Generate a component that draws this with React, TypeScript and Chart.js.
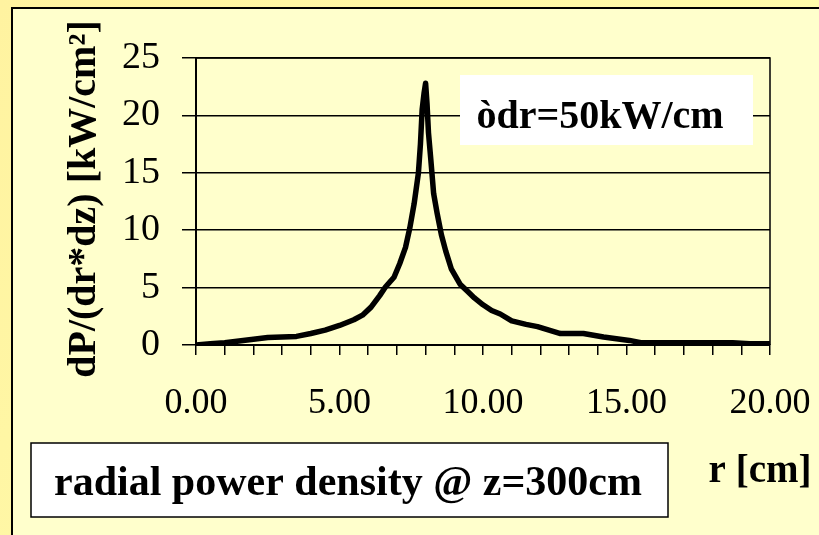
import React, { useEffect, useRef } from "react";
import { Chart, registerables } from "chart.js";

Chart.register(...registerables);

const rValues = [0, 0.5, 1, 1.5, 2, 2.5, 3, 3.5, 4, 4.5, 5, 5.5, 5.8, 6.1, 6.4, 6.6, 6.9, 7.1, 7.3, 7.45, 7.6, 7.75, 7.82, 7.88, 7.95, 8.0, 8.05, 8.1, 8.18, 8.28, 8.4, 8.55, 8.7, 8.9, 9.2, 9.45, 9.7, 10.0, 10.3, 10.6, 11.0, 11.5, 11.9, 12.3, 12.7, 13.5, 14.2, 15.1, 15.5, 16, 17, 18, 18.7, 19.3, 20];
const powerValues = [0, 0.1, 0.2, 0.35, 0.5, 0.65, 0.7, 0.75, 1.0, 1.3, 1.7, 2.2, 2.6, 3.3, 4.3, 5.05, 5.9, 7.1, 8.5, 10.2, 12.3, 15.0, 17.5, 20.5, 22.0, 22.8, 21.0, 18.5, 16.2, 13.2, 11.5, 9.6, 8.2, 6.6, 5.3, 4.7, 4.1, 3.5, 3.0, 2.7, 2.1, 1.8, 1.6, 1.3, 1.0, 1.0, 0.7, 0.4, 0.2, 0.2, 0.2, 0.2, 0.2, 0.1, 0.1];

const yTitle = "dP/(dr*dz) [kW/cm²]";
const xTitle = "r [cm]";
const annotationText = "òdr=50kW/cm";
const captionText = "radial power density @ z=300cm";

const SERIF = '"Liberation Serif", "Times New Roman", serif';

const decorPlugin = {
  id: "decor",
  beforeDraw(chart: any) {
    const ctx = chart.ctx;
    const W = chart.width, H = chart.height;
    ctx.save();
    const g = ctx.createLinearGradient(0, 0, W, H);
    g.addColorStop(0, "#fff3a0");
    g.addColorStop(1, "#ffffb0");
    ctx.fillStyle = g;
    ctx.fillRect(0, 0, W, H);
    ctx.fillStyle = "#ffffcc";
    ctx.fillRect(12, 8, W, H);
    ctx.strokeStyle = "#000";
    ctx.lineWidth = 2;
    ctx.beginPath();
    ctx.moveTo(12, H + 5);
    ctx.lineTo(12, 8);
    ctx.lineTo(W + 5, 8);
    ctx.stroke();
    ctx.restore();
  },
  afterDraw(chart: any) {
    const ctx = chart.ctx;
    const a = chart.chartArea;
    ctx.save();
    ctx.strokeStyle = "#000";
    ctx.lineWidth = 1.5;
    ctx.beginPath();
    ctx.moveTo(a.left, a.top);
    ctx.lineTo(a.right, a.top);
    ctx.lineTo(a.right, a.bottom);
    ctx.stroke();

    // annotation box
    ctx.fillStyle = "#ffffff";
    ctx.fillRect(460, 75, 293, 70);
    ctx.fillStyle = "#000";
    ctx.font = `bold 40px ${SERIF}`;
    ctx.textAlign = "center";
    ctx.textBaseline = "alphabetic";
    ctx.fillText(annotationText, 600, 128);

    // caption box
    ctx.fillStyle = "#ffffff";
    ctx.fillRect(31, 443, 637, 74);
    ctx.strokeStyle = "#000";
    ctx.lineWidth = 1.5;
    ctx.strokeRect(31, 443, 637, 74);
    ctx.fillStyle = "#000";
    ctx.font = `bold 42px ${SERIF}`;
    ctx.fillText(captionText, 348, 495);

    // x title
    ctx.font = `bold 39px ${SERIF}`;
    ctx.fillText(xTitle, 760, 482);

    // y title
    ctx.translate(95, 199);
    ctx.rotate(-Math.PI / 2);
    ctx.font = `bold 40px ${SERIF}`;
    ctx.fillText(yTitle, 0, 0);
    ctx.restore();
  },
};

export default function App() {
  const ref = useRef<HTMLCanvasElement>(null);
  useEffect(() => {
    const canvas = ref.current!;
    const points = rValues.map((r, i) => ({ x: r, y: powerValues[i] }));
    const chart = new Chart(canvas, {
      type: "line",
      data: {
        datasets: [
          {
            data: points,
            borderColor: "#000",
            borderWidth: 5.5,
            pointRadius: 0,
            tension: 0,
            fill: false,
            borderCapStyle: "round",
            borderJoinStyle: "round",
          },
        ],
      },
      options: {
        animation: false,
        responsive: false,
        devicePixelRatio: 1,
        layout: { padding: { left: 0, right: 49, top: 58, bottom: 0 } },
        plugins: { legend: { display: false }, tooltip: { enabled: false } },
        scales: {
          x: {
            type: "linear",
            min: 0,
            max: 20,
            afterFit: (s: any) => {
              s.height = 190;
              s.paddingLeft = 0;
              s.paddingRight = 0;
            },
            ticks: {
              stepSize: 1,
              autoSkip: false,
              maxRotation: 0,
              padding: 27,
              color: "#000",
              font: { family: SERIF, size: 36 },
              callback: (v: any) => (Number(v) % 5 === 0 ? Number(v).toFixed(2) : ""),
            },
            grid: {
              drawOnChartArea: false,
              drawTicks: true,
              tickLength: 10,
              color: "#000",
              lineWidth: 1.5,
            },
            border: { display: true, color: "#000", width: 2 },
          },
          y: {
            min: 0,
            max: 25,
            afterFit: (s: any) => {
              s.width = 196;
              s.paddingTop = 0;
              s.paddingBottom = 0;
            },
            ticks: {
              stepSize: 5,
              padding: 22,
              color: "#000",
              font: { family: SERIF, size: 38 },
            },
            grid: {
              drawOnChartArea: true,
              drawTicks: true,
              tickLength: 14,
              color: "#000",
              lineWidth: 1.5,
            },
            border: { display: true, color: "#000", width: 2 },
          },
        },
      },
      plugins: [decorPlugin],
    });
    return () => chart.destroy();
  }, []);
  return (
    <div style={{ position: "fixed", left: 0, top: 0, width: 819, height: 535 }}>
      <canvas ref={ref} width={819} height={535} style={{ display: "block", width: 819, height: 535 }} />
    </div>
  );
}
